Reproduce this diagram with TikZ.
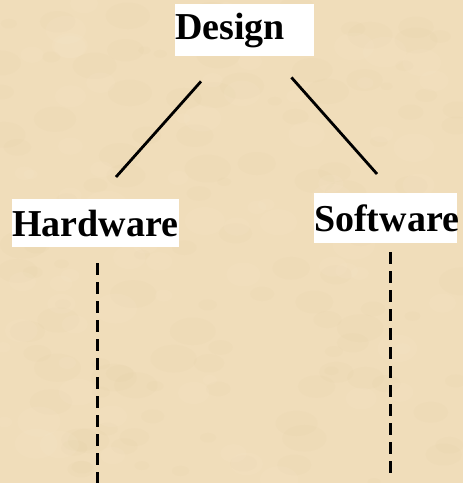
\documentclass[tikz,border=0pt]{standalone}
\usepackage{fontspec}
\setmainfont{Liberation Serif}
\definecolor{parch}{RGB}{240,221,186}
\definecolor{parchD}{RGB}{224,199,156}
\definecolor{parchL}{RGB}{249,234,208}

\begin{document}
\begin{tikzpicture}[
    x=1pt, y=-1pt,
    box/.style={fill=white, inner sep=0pt, anchor=north west, align=left,
        font=\fontsize{38}{40}\selectfont\bfseries},
    link/.style={line width=2.8pt, black},
    dashlink/.style={line width=2.8pt, black, dash pattern=on 12pt off 7pt},
]

% Parchment background
\useasboundingbox (0,0) rectangle (463,483);
\fill[parch] (0,0) rectangle (463,483);
\pgfmathsetseed{7}
\foreach \i in {1,...,120} {
    \pgfmathsetmacro{\px}{rnd*463}
    \pgfmathsetmacro{\py}{rnd*483}
    \pgfmathsetmacro{\pr}{6+rnd*18}
    \fill[parchD, opacity=0.09] (\px,\py) ellipse ({\pr pt} and {0.6*\pr pt});
}
\foreach \i in {1,...,80} {
    \pgfmathsetmacro{\px}{rnd*463}
    \pgfmathsetmacro{\py}{rnd*483}
    \pgfmathsetmacro{\pr}{6+rnd*16}
    \fill[parchL, opacity=0.12] (\px,\py) ellipse ({\pr pt} and {0.7*\pr pt});
}

% Boxes
\node[box, text width=139pt, minimum height=52pt] (design) at (175,4) {Design};
\node[box, text width=167pt, minimum height=48pt] (hw) at (12,199) {Hardware};
\node[box, text width=143pt, minimum height=50pt] (sw) at (314,193) {Software};

% Connector ends
\coordinate (dl) at ([xshift=26pt, yshift=-25pt]design.south west);
\coordinate (dr) at ([xshift=-23pt, yshift=-21pt]design.south east);
\coordinate (hwt) at ([xshift=104pt, yshift=22pt]hw.north west);
\coordinate (swt) at ([xshift=63pt, yshift=19pt]sw.north west);
\coordinate (hwa) at ([xshift=1.5pt, yshift=-16pt]hw.south);
\coordinate (hwb) at ([xshift=1.5pt, yshift=-250pt]hw.south);
\coordinate (swa) at ([xshift=4.5pt, yshift=-9pt]sw.south);
\coordinate (swb) at ([xshift=4.5pt, yshift=-230pt]sw.south);

% Links
\draw[link] (dl) -- (hwt);
\draw[link] (dr) -- (swt);
\draw[dashlink] (hwa) -- (hwb);
\draw[dashlink] (swa) -- (swb);

\end{tikzpicture}
\end{document}
